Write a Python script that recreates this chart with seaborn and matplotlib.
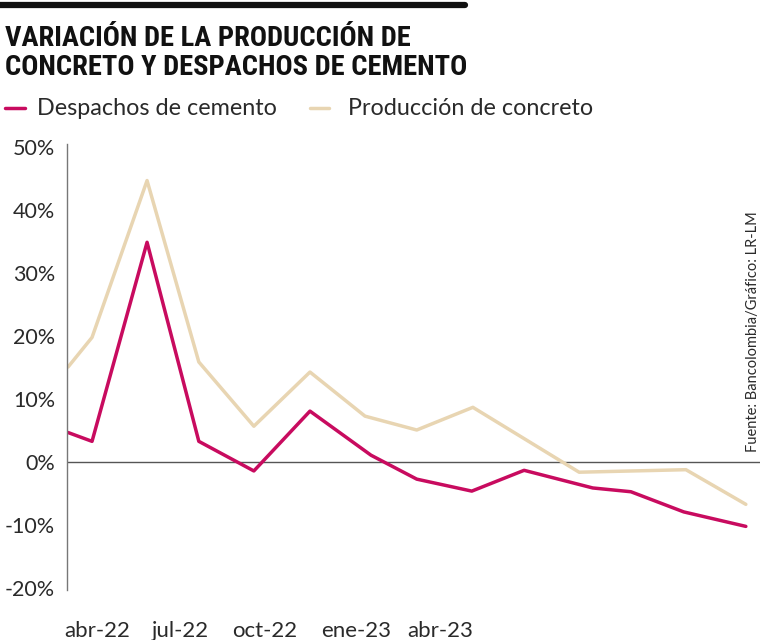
import matplotlib
matplotlib.use("Agg")
import matplotlib.pyplot as plt
import seaborn as sns
import pandas as pd

# data (x = position in months from the first point)
prod_x = [0, 0.44, 1.45, 2.40, 3.41, 4.44, 5.45, 6.40, 7.43, 9.38, 11.34, 12.44]
prod_y = [15.1, 19.8, 44.7, 15.9, 5.7, 14.3, 7.3, 5.1, 8.7, -1.6, -1.2, -6.7]
desp_x = [0, 0.44, 1.45, 2.40, 3.41, 4.44, 5.56, 6.40, 7.41, 8.37, 9.63, 10.33, 11.30, 12.44]
desp_y = [4.7, 3.3, 34.9, 3.3, -1.4, 8.1, 1.1, -2.7, -4.6, -1.3, -4.1, -4.7, -7.9, -10.2]
tick_pos = [0.53, 2.06, 3.61, 5.28, 6.83]
tick_labels = ["abr-22", "jul-22", "oct-22", "ene-23", "abr-23"]
y_ticks = [-20, -10, 0, 10, 20, 30, 40, 50]

serie_desp = "Despachos de cemento"
serie_prod = "Producción de concreto"

df = pd.concat([
    pd.DataFrame({"x": desp_x, "y": desp_y, "serie": serie_desp}),
    pd.DataFrame({"x": prod_x, "y": prod_y, "serie": serie_prod}),
])

sns.set_style("white")
plt.rcParams["font.family"] = ["Lato", "DejaVu Sans"]

colors = {serie_desp: "#c80b5f", serie_prod: "#e8d5b2"}
txt = "#2a2a2a"

fig = plt.figure(figsize=(7.68, 6.40), dpi=100)
ax = fig.add_axes([0.0872, 0.0781, 0.9024, 0.6969])

sns.lineplot(data=df, x="x", y="y", hue="serie", palette=colors,
             hue_order=[serie_prod, serie_desp], linewidth=2.5, ax=ax,
             legend=False, sort=False)

ax.axhline(0, color="#555555", lw=1.0, zorder=0)
ax.set_xlim(-0.02, 12.70)
ax.set_ylim(-20.3, 50.5)
ax.set_yticks(y_ticks)
ax.set_yticklabels([f"{v}%" for v in y_ticks], fontsize=15.5, color=txt)
ax.set_xticks(tick_pos)
ax.set_xticklabels(tick_labels, fontsize=16, color=txt)
ax.tick_params(axis="y", length=0, pad=8.5)
ax.tick_params(axis="x", length=0, pad=22)
ax.set_xlabel("")
ax.set_ylabel("")
for s in ["top", "right", "bottom"]:
    ax.spines[s].set_visible(False)
ax.spines["left"].set_color("#777777")
ax.spines["left"].set_linewidth(1.0)

# top bar
fig.add_artist(plt.Line2D([0, 0.605], [0.9915, 0.9915], color="#111111", lw=4.5))

# title
fig.text(0.006, 0.873, "VARIACIÓN DE LA PRODUCCIÓN DE\nCONCRETO Y DESPACHOS DE CEMENTO",
         family=["Roboto Condensed", "Roboto", "DejaVu Sans"], fontweight="bold",
         fontsize=20.5, color="#111111", linespacing=1.1, va="bottom")

# legend, drawn by hand to match the reference placement
leg_y = 0.831
fig.add_artist(plt.Line2D([5 / 768, 25 / 768], [leg_y, leg_y], color=colors[serie_desp], lw=2.5))
fig.text(37 / 768, leg_y, serie_desp, fontsize=16.8, color=txt, va="center")
fig.add_artist(plt.Line2D([310 / 768, 329 / 768], [leg_y, leg_y], color=colors[serie_prod], lw=2.5))
fig.text(348 / 768, leg_y, serie_prod, fontsize=16.8, color=txt, va="center")

# source
fig.text(0.981, 0.482, "Fuente: Bancolombia/Gráfico: LR-LM", rotation=90,
         fontsize=10.5, color=txt, ha="center", va="center")

fig.savefig("out.png", dpi=100)
